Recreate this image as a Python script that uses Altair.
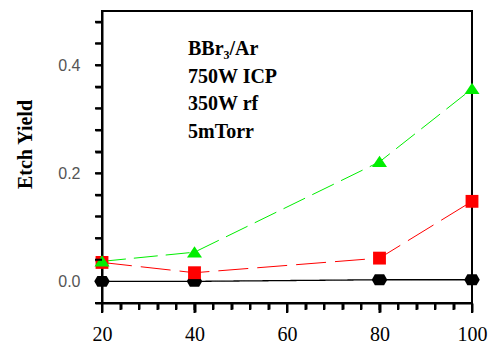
import json
import altair as alt
import pandas as pd

# ---- data ----
x_vals = [20, 40, 80, 100]
black_vals = [0.0, 0.0, 0.003, 0.003]
red_vals = [0.035, 0.016, 0.043, 0.148]
green_vals = [0.037, 0.054, 0.221, 0.356]

x_ticks = [20, 24, 28, 32, 36, 40, 44, 48, 52, 56, 60, 64, 68, 72, 76, 80, 84, 88, 92, 96, 100]
x_labels = [20, 40, 60, 80, 100]
y_ticks = [-0.04, 0.0, 0.04, 0.08, 0.12, 0.16, 0.2, 0.24, 0.28, 0.32, 0.36, 0.4, 0.44, 0.48]
y_labels = [0.0, 0.2, 0.4]
note_lines = ["BBr₃/Ar", "750W ICP", "350W rf", "5mTorr"]
y_title = "Etch Yield"

series_names = ["black", "red", "green"]
series_vals = [black_vals, red_vals, green_vals]

HEX = "M-1,0L-0.6,-0.7L0.6,-0.7L1,0L0.6,0.7L-0.6,0.7Z"
TRI = "M0,-0.8L1,0.7L-1,0.7Z"
HTICK = "M-1,0L1,0"
VTICK = "M0,-1L0,1"
styles = {
    "black": dict(color="#000000", dash=[1, 0], shape=HEX, size=240, width=1.3),
    "red": dict(color="#ff0000", dash=[30, 9], shape="square", size=165, width=1.0),
    "green": dict(color="#00ee00", dash=[24, 8], shape=TRI, size=225, width=1.0),
}

xlab_js = json.dumps(x_labels)
ylab_js = json.dumps(y_labels)

PLOT_W, PLOT_H = 370, 292

common_axis = dict(
    grid=False, domain=True, domainColor="#000000", domainWidth=2,
    ticks=True, tickColor="#000000", tickWidth=2,
    labelOverlap=False, labelFlush=False,
)

x_scale = alt.Scale(domain=[20, 100], nice=False, zero=False)
y_scale = alt.Scale(domain=[-0.04, 0.5], nice=False, zero=False)

x_axis = alt.Axis(
    values=x_ticks,
    labelExpr=f"indexof({xlab_js}, datum.value) >= 0 ? datum.label : ''",
    title=None,
    tickSize={"condition": {"test": f"indexof({xlab_js}, datum.value) >= 0", "value": 9}, "value": 6},
    labelFont="Liberation Serif", labelFontSize=20, labelColor="#000000",
    labelPadding=12,
    **common_axis,
)
y_axis = alt.Axis(
    values=y_ticks,
    labelExpr=f"indexof({ylab_js}, datum.value) >= 0 ? format(datum.value, '.1f') : ''",
    title=y_title,
    tickSize=7,
    labelFont="Liberation Sans", labelFontSize=16, labelColor="#555555",
    labelPadding=15,
    titleFont="Liberation Serif", titleFontWeight="bold", titleFontSize=20,
    titleColor="#000000", titleX=-77, titleY=133, titleBaseline="middle",
    **common_axis,
)

lines = []
points = []
for name, vals in zip(series_names, series_vals):
    st = styles[name]
    sdf = pd.DataFrame({"x": x_vals, "y": vals})
    enc = dict(x=alt.X("x:Q", scale=x_scale, axis=x_axis),
               y=alt.Y("y:Q", scale=y_scale, axis=y_axis))
    lines.append(
        alt.Chart(sdf)
        .mark_line(color=st["color"], strokeDash=st["dash"], strokeWidth=st["width"])
        .encode(**enc)
    )
    points.append(
        alt.Chart(sdf)
        .mark_point(shape=st["shape"], size=st["size"], filled=True, opacity=1,
                    color=st["color"], strokeWidth=0)
        .encode(**enc)
    )

# tick marks drawn as line-shaped symbols, placed through the same scales
y_tick_layer = alt.Chart(pd.DataFrame({"y": y_ticks})).mark_point(
    shape=HTICK, size=49, filled=False, opacity=1, color="#000000", strokeWidth=2
).encode(y=alt.Y("y:Q", scale=y_scale, axis=y_axis), x=alt.value(-3.5))
x_minor_layer = alt.Chart(pd.DataFrame({"x": x_ticks})).mark_point(
    shape=VTICK, size=49, filled=False, opacity=1, color="#000000", strokeWidth=2
).encode(x=alt.X("x:Q", scale=x_scale, axis=x_axis), y=alt.value(PLOT_H + 3.5))
x_major_layer = alt.Chart(pd.DataFrame({"x": x_labels})).mark_point(
    shape=VTICK, size=100, filled=False, opacity=1, color="#000000", strokeWidth=2
).encode(x=alt.X("x:Q", scale=x_scale, axis=x_axis), y=alt.value(PLOT_H + 5))

note_df = pd.DataFrame({"t": ["\n".join(note_lines)]})
note = alt.Chart(note_df).mark_text(
    align="left", baseline="alphabetic", lineBreak="\n", lineHeight=27.5,
    font="Liberation Serif", fontWeight="bold", fontSize=20, color="#000000",
).encode(x=alt.value(86), y=alt.value(44), text="t:N")

chart = (
    alt.layer(*lines, *points, y_tick_layer, x_minor_layer, x_major_layer, note)
    .properties(width=PLOT_W, height=PLOT_H, autosize=alt.AutoSizeParams(type="none"),
                padding={"left": 102, "top": 11, "right": 22, "bottom": 45})
    .configure_view(stroke="#000000", strokeWidth=2)
)

chart.save("out.html", embed_options={"renderer": "svg", "actions": False})
